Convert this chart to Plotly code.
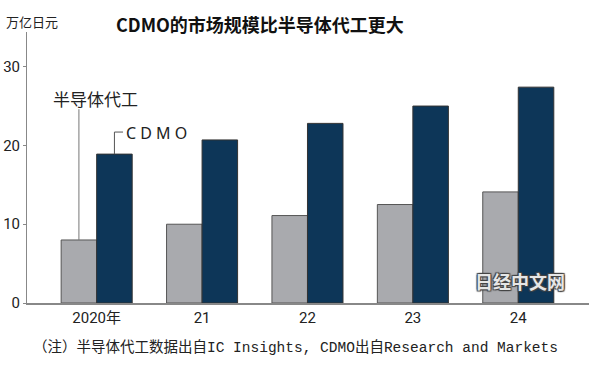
import plotly.graph_objects as go

categories = ["2020年", "21", "22", "23", "24"]
foundry = [8.0, 10.0, 11.1, 12.5, 14.1]
cdmo = [18.9, 20.7, 22.8, 25.0, 27.4]
y_ticks = [0, 10, 20, 30]

GRAY = "#a9aaae"
NAVY = "#0d3658"
CJK = "Noto Sans CJK SC"
NARROW = "Liberation Sans Narrow, Roboto, Noto Sans CJK SC, sans-serif"

fig = go.Figure()
fig.add_trace(go.Bar(x=categories, y=foundry, name="半导体代工",
                     marker=dict(color=GRAY, line=dict(color="#555555", width=1))))
fig.add_trace(go.Bar(x=categories, y=cdmo, name="CDMO",
                     marker=dict(color=NAVY, line=dict(color="#333333", width=1))))

bargap = 0.326
half = (1 - bargap) / 4  # center offset of each bar within group

fig.update_layout(
    width=600, height=375,
    margin=dict(l=27, r=11, t=32, b=72),
    paper_bgcolor="white", plot_bgcolor="white",
    barmode="group", bargap=bargap, bargroupgap=0,
    showlegend=False,
    xaxis=dict(type="category", range=[-0.661, 4.671], showgrid=False, automargin=False,
               showline=True, linecolor="#888888", linewidth=1.5,
               ticks="", tickfont=dict(family=NARROW, size=15, color="#222")),
    yaxis=dict(range=[0, 34.4], tickvals=y_ticks, showgrid=False, zeroline=False,
               automargin=False,
               showline=True, linecolor="#888888", linewidth=1,
               ticks="outside", ticklen=3, tickcolor="#888888",
               tickfont=dict(family=NARROW, size=15, color="#222")),
    font=dict(family=CJK),
)

# leader lines
fig.add_shape(type="line", xref="x", yref="y", x0=-half, x1=-half, y0=foundry[0], y1=24.6,
              line=dict(color="#777777", width=1))
fig.add_shape(type="line", xref="x", yref="y", x0=half, x1=half, y0=cdmo[0], y1=21.7,
              line=dict(color="#555555", width=1))
fig.add_shape(type="line", xref="x", yref="y", x0=half, x1=0.25, y0=21.7, y1=21.7,
              line=dict(color="#555555", width=1))

fig.add_annotation(xref="x", yref="y", x=-0.01, y=26.0, text="半导体代工", showarrow=False,
                   xanchor="center", yanchor="middle",
                   font=dict(family=CJK, size=17, color="#222"))
fig.add_annotation(xref="x", yref="y", x=0.262, y=21.6, text="C D M O", showarrow=False,
                   xanchor="left", yanchor="middle",
                   font=dict(family="Noto Sans", size=16, color="#222"))

# title and unit
fig.add_annotation(xref="paper", yref="paper", x=0.4146, y=1.0295,
                   text="<b>CDMO的市场规模比半导体代工更大</b>", showarrow=False,
                   xanchor="center", yanchor="middle",
                   font=dict(family=CJK, size=18, color="#111"))
fig.add_annotation(xref="paper", yref="paper", x=-0.0409, y=1.037, text="万亿日元",
                   showarrow=False, xanchor="left", yanchor="middle",
                   font=dict(family=CJK, size=13, color="#222"))
# footnote
fig.add_annotation(xref="paper", yref="paper", x=0.4769, y=-0.166,
                   text="（注）半导体代工数据出自IC Insights, CDMO出自Research and Markets",
                   showarrow=False, xanchor="center", yanchor="middle",
                   font=dict(family="Liberation Mono, Noto Sans CJK SC", size=14.5, color="#222"))
# watermark
fig.add_annotation(xref="paper", yref="paper", x=0.877, y=0.081, text="<b>日经中文网</b>",
                   showarrow=False, xanchor="center", yanchor="middle",
                   font=dict(family=CJK, size=18, color="#e6e6e6",
                             shadow="1px 1px 1px #444, -1px -1px 1px #444, 1px -1px 1px #444, -1px 1px 1px #444"))

fig.write_html("out.html", config={"displayModeBar": False},
               post_script="document.body.style.margin='0';")
